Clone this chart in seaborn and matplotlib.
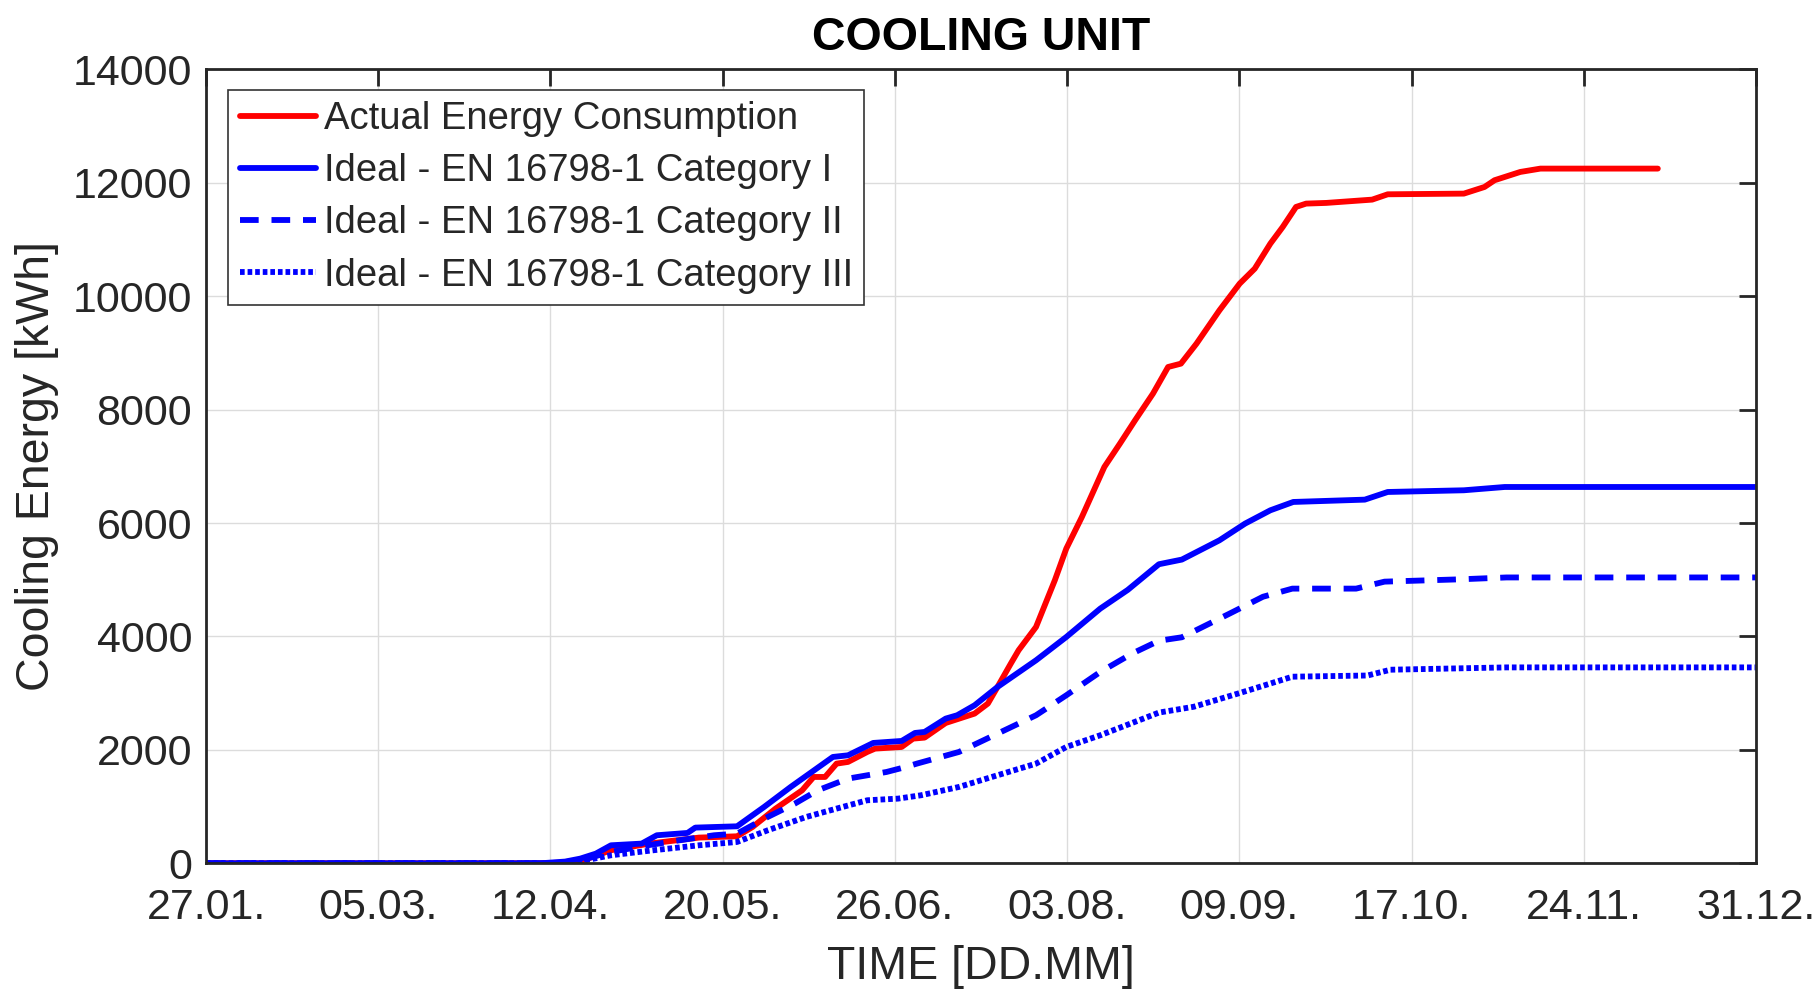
import numpy as np
import pandas as pd
import matplotlib
matplotlib.use("Agg")
import matplotlib.pyplot as plt
import seaborn as sns

# day of year vs cumulative cooling energy [kWh]
red_day = [27, 100, 104, 109.5, 115.3, 123.7, 134.5, 142.8, 146.2, 151.2, 157, 159.5, 162, 164.5,
           167, 171.2, 172.9, 178.7, 181.2, 183.7, 188.3, 194.6, 197.5, 199.6, 202.5, 204.2, 208,
           212.1, 214.6, 218, 222.9, 226.3, 229.6, 233.5, 236.8, 239.6, 243, 248, 252.4, 255.7,
           259.1, 261.8, 264.7, 266.9, 271.3, 281.3, 284.7, 301.3, 305.8, 308, 313.6, 318, 343.6]
red_val = [0, 0, 10, 60, 230, 347, 453, 476, 641, 964, 1287, 1522, 1522, 1757,
           1787, 1963, 2022, 2051, 2198, 2216, 2474, 2639, 2816, 3109, 3521, 3756, 4167,
           4990, 5549, 6106, 6988, 7400, 7811, 8281, 8751, 8810, 9163, 9750, 10220, 10485,
           10926, 11220, 11573, 11632, 11644, 11702, 11796, 11808, 11925, 12044, 12190, 12249, 12249]

cat1_day = [27, 100, 105.3, 108.6, 112, 115.3, 122, 125.3, 132, 133.7, 142.8, 148.7, 154.5, 163.7,
            167, 172.5, 178.7, 181.6, 183.7, 188.3, 190.8, 194.6, 199.6, 208, 214.6, 222, 228,
            234.8, 239.8, 248, 253.6, 259.1, 264.1, 279.7, 284.7, 301.3, 310.2, 365]
cat1_val = [0, 0, 30, 82, 170, 317, 347, 494, 535, 629, 652, 993, 1346, 1875,
            1904, 2122, 2157, 2298, 2316, 2551, 2610, 2786, 3109, 3579, 3990, 4490, 4820,
            5273, 5355, 5695, 5990, 6224, 6371, 6412, 6547, 6577, 6635, 6635]

cat2_day = [27, 104, 109, 115.3, 123.3, 130.3, 137.8, 142.8, 149.5, 155.4, 160.4, 167, 175.4,
            179.6, 182, 191.2, 199.6, 208, 214.6, 222, 229, 234.8, 239.8, 250, 257.5, 263.9,
            277.8, 284, 300.5, 310.6, 365]
cat2_val = [0, 0, 60, 200, 317, 406, 494, 523, 817, 1052, 1287, 1493, 1610,
            1698, 1757, 1963, 2286, 2610, 2962, 3373, 3700, 3924, 3985, 4394, 4700, 4843,
            4843, 4966, 5007, 5040, 5040]

cat3_day = [27, 104, 109, 115.3, 124.5, 134.5, 142.8, 149.5, 157.9, 164.5, 171.2, 177.9, 182.9,
            191.2, 199.6, 208, 214.6, 222, 234.8, 242.4, 252.5, 263.9, 280.3, 285.3, 310.6, 365]
cat3_val = [0, 0, 40, 141, 229, 317, 376, 582, 817, 964, 1111, 1140, 1199,
            1346, 1552, 1757, 2051, 2257, 2657, 2760, 3004, 3290, 3311, 3413, 3454, 3454]

labels = ["Actual Energy Consumption", "Ideal - EN 16798-1 Category I",
          "Ideal - EN 16798-1 Category II", "Ideal - EN 16798-1 Category III"]
xtick_labels = ["27.01.", "05.03.", "12.04.", "20.05.", "26.06.", "03.08.",
                "09.09.", "17.10.", "24.11.", "31.12."]
ytick_values = [0, 2000, 4000, 6000, 8000, 10000, 12000, 14000]

sns.set_style("whitegrid")
plt.rcParams['font.family'] = ['Liberation Sans', 'DejaVu Sans']

fig, ax = plt.subplots(figsize=(18.17, 9.90), dpi=100)
fig.subplots_adjust(left=0.1134, right=0.9664, top=0.930, bottom=0.128)

series = [
    (red_day, red_val, "#ff0000", None),
    (cat1_day, cat1_val, "#0000ff", None),
    (cat2_day, cat2_val, "#0000ff", (3.2, 2.2)),
    (cat3_day, cat3_val, "#0000ff", (0.8, 0.5)),
]
for (d, v, c, dash), lab in zip(series, labels):
    df = pd.DataFrame({"day": d, "energy": v})
    sns.lineplot(data=df, x="day", y="energy", ax=ax, color=c, lw=4.2,
                 label=lab, sort=False, estimator=None)
    if dash is not None:
        ax.lines[-1].set_dashes(dash)

ax.set_xlim(27, 365)
ax.set_ylim(0, 14000)
ax.set_xticks(np.linspace(27, 365, len(xtick_labels)))
ax.set_xticklabels(xtick_labels)
ax.set_yticks(ytick_values)

ax.grid(True, color="#dcdcdc", linewidth=1.0)
for s in ax.spines.values():
    s.set_visible(True)
    s.set_color("#262626")
    s.set_linewidth(2.0)
ax.tick_params(axis="both", direction="in", length=12, width=2, color="#262626",
               labelsize=31, labelcolor="#262626", top=True, right=True)
ax.tick_params(axis="x", pad=18)
ax.tick_params(axis="y", pad=10)

ax.set_xlabel("TIME [DD.MM]", fontsize=33.5, color="#262626", labelpad=12)
ax.set_ylabel("Cooling Energy [kWh]", fontsize=33.5, color="#262626", labelpad=10)
ax.set_title("COOLING UNIT", fontsize=33.5, fontweight="bold", color="black", pad=14)

leg = ax.legend(loc="upper left", bbox_to_anchor=(0.0142, 0.974), borderaxespad=0,
                fontsize=27.5, handlelength=2.0, handletextpad=0.2, labelspacing=0.42,
                fancybox=False, framealpha=1, borderpad=0.3)
leg.get_frame().set_edgecolor("#333333")
leg.get_frame().set_linewidth(1.2)

plt.savefig("out.png", dpi=100)
plt.close()
